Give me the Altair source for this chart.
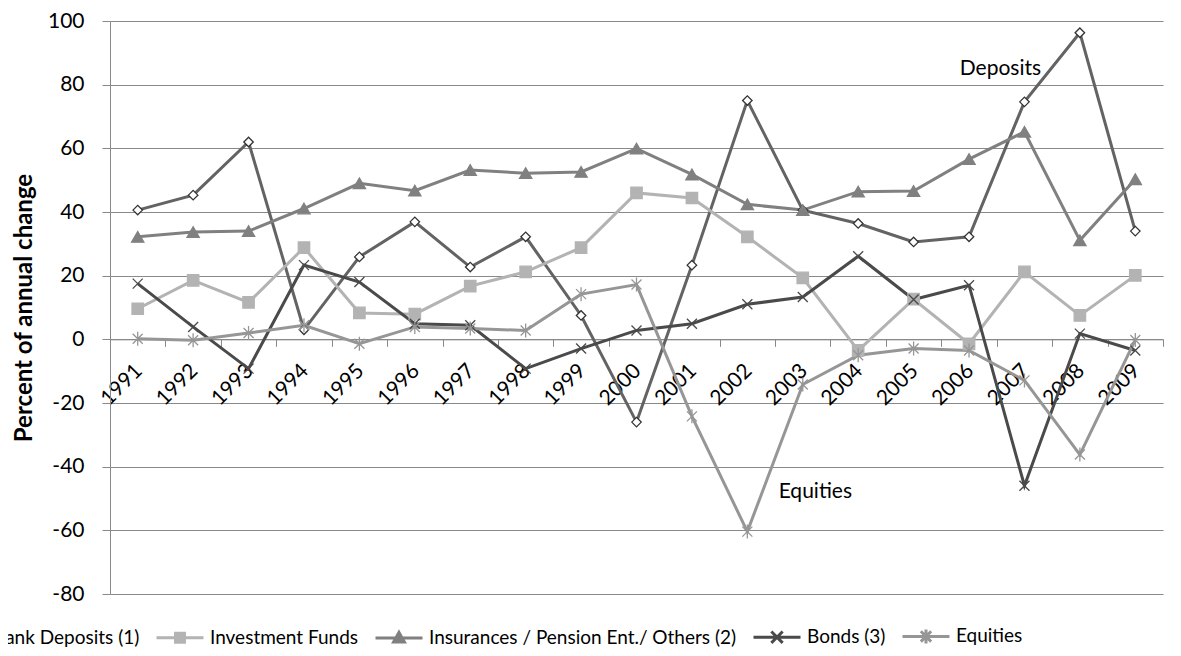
import altair as alt
import pandas as pd

years = [str(y) for y in range(1991, 2010)]
series = ["Bank Deposits (1)", "Investment Funds",
          "Insurances / Pension Ent./ Others (2)", "Bonds (3)", "Equities"]

deposits = [40.6, 45.3, 62.0, 3.0, 25.9, 36.9, 22.7, 32.2, 7.5, -26.0,
            23.3, 75.0, 40.6, 36.4, 30.6, 32.2, 74.6, 96.3, 34.0]
inv_funds = [9.6, 18.5, 11.6, 28.8, 8.3, 7.9, 16.7, 21.2, 28.8, 46.0,
             44.4, 32.2, 19.3, -3.5, 12.6, -1.4, 21.2, 7.5, 20.1]
insurances = [32.2, 33.7, 34.0, 41.1, 49.0, 46.7, 53.2, 52.2, 52.6, 59.9,
              51.8, 42.4, 40.6, 46.4, 46.6, 56.6, 65.2, 31.1, 50.3]
bonds = [17.5, 3.9, -9.2, 23.3, 18.0, 4.9, 4.4, -9.2, -2.9, 2.8,
         4.9, 11.0, 13.3, 26.1, 12.5, 17.0, -46.0, 1.8, -3.5]
equities = [0.2, -0.3, 2.0, 4.4, -1.4, 3.9, 3.4, 2.8, 14.2, 17.2,
            -24.2, -60.4, -14.2, -5.0, -2.9, -3.5, -12.9, -36.2, -0.2]

values = [deposits, inv_funds, insurances, bonds, equities]
rows = []
for s, vals in zip(series, values):
    for y, v in zip(years, vals):
        rows.append({"series": s, "year": y, "value": v})
df = pd.DataFrame(rows)

ann_labels = ["Deposits", "Equities"]
ann_years = ["2007", "2002"]
ann_values = [85, -48]
ann = pd.DataFrame({"label": ann_labels, "year": ann_years, "value": ann_values})

line_colors = ["#636363", "#b3b3b3", "#808080", "#4a4a4a", "#969696"]
fill_colors = ["white", "#b3b3b3", "#808080", "transparent", "transparent"]
stroke_colors = ["#333333", "#b3b3b3", "#808080", "#4a4a4a", "#969696"]
X_PATH = "M-1,-1L1,1M-1,1L1,-1"
AST_PATH = "M-1,-1L1,1M-1,1L1,-1M0,-1.4L0,1.4"
shapes = ["diamond", "square", "triangle-up", X_PATH, AST_PATH]
marker_sizes = [90, 130, 150, 100, 100]

FONT = "Lato"
GRID = "#898989"

# legend symbols: line + marker (custom paths in [-1,1] units)
leg_paths = {
    series[0]: "M-1,0H-0.22M0.22,0H1M0,-0.2L0.2,0L0,0.2L-0.2,0Z",
    series[1]: "M-1,0H1M-0.19,-0.19H0.19V0.19H-0.19Z",
    series[2]: "M-1,0H1M0,-0.24L0.23,0.17L-0.23,0.17Z",
    series[3]: "M-1,0H1M-0.24,-0.24L0.24,0.24M-0.24,0.24L0.24,-0.24",
    series[4]: "M-1,0H1M-0.22,-0.22L0.22,0.22M-0.22,0.22L0.22,-0.22M0,-0.3V0.3",
}
shape_expr = " : ".join(
    [f"datum.value == '{k}' ? '{v}'" for k, v in leg_paths.items()]) + " : 'circle'"
fill_expr = ("datum.value == 'Bank Deposits (1)' ? 'white' : "
             "datum.value == 'Investment Funds' ? '#b3b3b3' : "
             "datum.value == 'Bonds (3)' ? 'transparent' : "
             "datum.value == 'Equities' ? 'transparent' : '#808080'")
legend_label_expr = ("datum.label == 'Bonds (3)' ? "
                     "'Bonds (3)\u00a0\u00a0\u00a0\u00a0\u00a0' : datum.label")

x_enc = alt.X("year:N", sort=years,
              scale=alt.Scale(paddingInner=0, paddingOuter=0),
              axis=alt.Axis(title=None, offset=-254.67, tickBand="extent",
                            tickSize=7, tickColor=GRID, domainColor=GRID,
                            labelAngle=-45, labelAlign="right",
                            labelBaseline="middle", labelPadding=21,
                            labelOffset=1,
                            labelFont=FONT, labelFontSize=21, labelColor="black",
                            labelOverlap=False, grid=False))
y_enc = alt.Y("value:Q",
              scale=alt.Scale(domain=[-80, 100], nice=False, zero=False),
              axis=alt.Axis(title="Percent of annual change",
                            values=list(range(-80, 101, 20)),
                            labelExpr="datum.value",
                            grid=True, gridColor=GRID, domainColor=GRID,
                            tickColor=GRID, tickSize=8, labelPadding=18,
                            labelFont=FONT, labelFontSize=21, labelColor="black",
                            titleFont=FONT, titleFontSize=24,
                            titleFontWeight="bold", titleColor="black",
                            titlePadding=11))

lines = alt.Chart(df).mark_line(strokeWidth=3).encode(
    x=x_enc, y=y_enc,
    color=alt.Color("series:N", sort=series,
                    scale=alt.Scale(domain=series, range=line_colors),
                    legend=alt.Legend(
                        title=None, orient="none", direction="horizontal",
                        legendX=-172, legendY=590, labelLimit=0,
                        labelExpr=legend_label_expr,
                        labelFont=FONT, labelFontSize=19, labelColor="black",
                        symbolSize=2209, symbolStrokeWidth=3,
                        symbolType={"expr": shape_expr},
                        symbolFillColor={"expr": fill_expr},
                        symbolOpacity=1,
                        labelOffset=5, columnPadding=10)),
    detail="series:N",
)

# one marker layer per series, each with its own fixed marker style
point_layers = []
for s, shp, fc, sc, sz in zip(series, shapes, fill_colors, stroke_colors,
                              marker_sizes):
    point_layers.append(
        alt.Chart(df).transform_filter(alt.datum.series == s).mark_point(
            shape=shp, size=sz, strokeWidth=1.3, opacity=1,
            fill=fc, stroke=sc, fillOpacity=1, filled=False
        ).encode(x=alt.X("year:N", sort=years), y="value:Q")
    )

deposit_text = alt.Chart(ann[ann.label == "Deposits"]).mark_text(
    font=FONT, fontSize=21, color="black", align="center",
    baseline="middle", dx=-24).encode(
    x=alt.X("year:N", sort=years), y="value:Q", text="label:N")
equity_text = alt.Chart(ann[ann.label == "Equities"]).mark_text(
    font=FONT, fontSize=21, color="black", align="center",
    baseline="middle", dx=68).encode(
    x=alt.X("year:N", sort=years), y="value:Q", text="label:N")

chart = alt.layer(lines, *point_layers, deposit_text, equity_text).properties(
    width=1053, height=573,
    autosize=alt.AutoSizeParams(type="none"),
    padding={"left": 102, "top": 13, "right": 10, "bottom": 58},
    background="white",
).configure_view(stroke=None)

chart.save("out.html", embed_options={"renderer": "svg", "actions": False})
